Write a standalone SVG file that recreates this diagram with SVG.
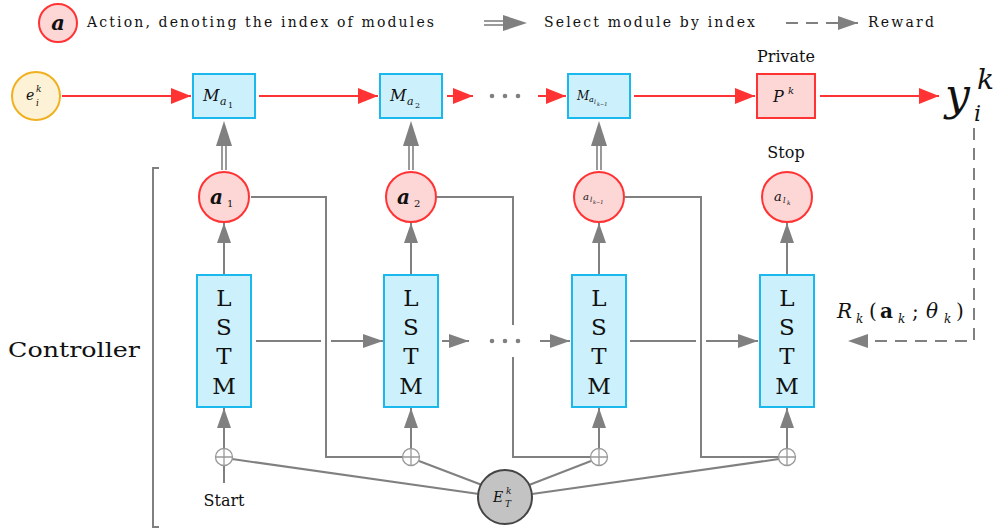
<svg xmlns="http://www.w3.org/2000/svg" width="995" height="529" viewBox="0 0 995 529">
<defs>
<style>
.t{font-family:"DejaVu Serif","Liberation Serif",serif;fill:#111}
.m{font-family:"DejaVu Serif","Liberation Serif",serif;font-style:italic;fill:#111}
.blue{fill:#ccf0fc;stroke:#1ab8ec;stroke-width:2}
.act{fill:#fdd6d6;stroke:#f33;stroke-width:2}
.g{stroke:#808080;stroke-width:2;fill:none}
.r{stroke:#f33;stroke-width:2;fill:none}
.plus{fill:#fff;stroke:#999;stroke-width:1.3}
</style>
<marker id="ga" markerUnits="userSpaceOnUse" markerWidth="20" markerHeight="14" refX="20" refY="7" orient="auto"><path d="M0,0 L20,7 L0,14 z" fill="#808080"/></marker>
<marker id="ra" markerUnits="userSpaceOnUse" markerWidth="20" markerHeight="16" refX="20" refY="8" orient="auto"><path d="M0,0 L20,8 L0,16 z" fill="#f33"/></marker>
</defs>
<rect width="995" height="529" fill="#fff"/>

<g id="legend">
<circle cx="58" cy="23" r="19" class="act"/>
<text x="58" y="30" class="m" font-size="21" font-weight="bold" text-anchor="middle">a</text>
<text x="87" y="27" class="t" font-size="14" textLength="347" lengthAdjust="spacing">Action, denoting the index of modules</text>
<line x1="484" y1="21" x2="506" y2="21" stroke="#808080" stroke-width="1.6"/>
<line x1="484" y1="25" x2="506" y2="25" stroke="#808080" stroke-width="1.6"/>
<path d="M503,15 L527,23 L503,31 z" fill="#808080"/>
<text x="544" y="27" class="t" font-size="14" textLength="211" lengthAdjust="spacing">Select module by index</text>
<line x1="786" y1="23" x2="858" y2="23" class="g" stroke-dasharray="12,8" marker-end="url(#ga)"/>
<text x="868" y="27" class="t" font-size="14" textLength="66" lengthAdjust="spacing">Reward</text>
</g>

<g id="connectors">
<line x1="62" y1="96" x2="191" y2="96" class="r" marker-end="url(#ra)"/>
<line x1="259" y1="96" x2="378" y2="96" class="r" marker-end="url(#ra)"/>
<line x1="447" y1="96" x2="473" y2="96" class="r" marker-end="url(#ra)"/>
<line x1="538" y1="96" x2="566" y2="96" class="r" marker-end="url(#ra)"/>
<line x1="634" y1="96" x2="755" y2="96" class="r" marker-end="url(#ra)"/>
<line x1="820" y1="96" x2="939" y2="96" class="r" marker-end="url(#ra)"/>
<g fill="#808080"><circle cx="492" cy="96" r="2.3"/><circle cx="505" cy="96" r="2.3"/><circle cx="518" cy="96" r="2.3"/></g>

<g stroke="#808080" stroke-width="1.6">
<line x1="222" y1="144" x2="222" y2="170"/><line x1="226" y1="144" x2="226" y2="170"/>
<line x1="409" y1="144" x2="409" y2="170"/><line x1="413" y1="144" x2="413" y2="170"/>
<line x1="597" y1="144" x2="597" y2="170"/><line x1="601" y1="144" x2="601" y2="170"/>
</g>
<g fill="#808080">
<path d="M216,146 L224,121 L232,146 z"/>
<path d="M403,146 L411,121 L419,146 z"/>
<path d="M591,146 L599,121 L607,146 z"/>
</g>

<line x1="224" y1="275" x2="224" y2="223" class="g" marker-end="url(#ga)"/>
<line x1="411" y1="275" x2="411" y2="223" class="g" marker-end="url(#ga)"/>
<line x1="599" y1="275" x2="599" y2="223" class="g" marker-end="url(#ga)"/>
<line x1="787" y1="275" x2="787" y2="223" class="g" marker-end="url(#ga)"/>

<line x1="224" y1="448" x2="224" y2="408" class="g" marker-end="url(#ga)"/>
<line x1="411" y1="448" x2="411" y2="408" class="g" marker-end="url(#ga)"/>
<line x1="599" y1="448" x2="599" y2="408" class="g" marker-end="url(#ga)"/>
<line x1="787" y1="448" x2="787" y2="408" class="g" marker-end="url(#ga)"/>
<line x1="224" y1="466" x2="224" y2="483" class="g"/>

<polyline points="251,197 326,197 326,457 402,457" class="g"/>
<polyline points="437,197 513,197 513,325" class="g"/>
<polyline points="513,357 513,457 590,457" class="g"/>
<polyline points="625,197 701,197 701,457 778,457" class="g"/>

<line x1="256" y1="341" x2="321" y2="341" class="g"/>
<line x1="331" y1="341" x2="383" y2="341" class="g" marker-end="url(#ga)"/>
<line x1="442" y1="341" x2="469" y2="341" class="g" marker-end="url(#ga)"/>
<g fill="#808080"><circle cx="492" cy="341" r="2.3"/><circle cx="505" cy="341" r="2.3"/><circle cx="518" cy="341" r="2.3"/></g>
<line x1="540" y1="341" x2="570" y2="341" class="g" marker-end="url(#ga)"/>
<line x1="630" y1="341" x2="696" y2="341" class="g"/>
<line x1="706" y1="341" x2="758" y2="341" class="g" marker-end="url(#ga)"/>

<polyline points="974,128 974,341 848,341" class="g" stroke-dasharray="12,8" marker-end="url(#ga)"/>

<line x1="479" y1="494" x2="232" y2="459" class="g"/>
<line x1="482" y1="485" x2="419" y2="461" class="g"/>
<line x1="529" y1="485" x2="591" y2="461" class="g"/>
<line x1="532" y1="494" x2="779" y2="459" class="g"/>

<polyline points="159,168 153,168 153,527 159,527" class="g" stroke-width="1.8"/>
</g>

<g id="e">
<circle cx="36" cy="96" r="24" fill="#fdf2d6" stroke="#f0b020" stroke-width="2"/>
<text x="26" y="100" class="m" font-size="14">e</text>
<text x="36" y="92" class="m" font-size="9">k</text>
<text x="36" y="106" class="m" font-size="9">i</text>
</g>

<g id="M1">
<rect x="193" y="74" width="62" height="44" class="blue"/>
<text x="203" y="101" class="m" font-size="16">M</text>
<text x="220" y="105" class="m" font-size="11">a</text>
<text x="228" y="108" class="t" font-size="8">1</text>
</g>
<g id="M2">
<rect x="380" y="74" width="62" height="44" class="blue"/>
<text x="390" y="101" class="m" font-size="16">M</text>
<text x="407" y="105" class="m" font-size="11">a</text>
<text x="415" y="108" class="t" font-size="8">2</text>
</g>
<g id="M3">
<rect x="568" y="74" width="62" height="44" class="blue"/>
<text x="577" y="100" class="m" font-size="12">M</text>
<text x="589" y="102" class="m" font-size="8">a</text>
<text x="594" y="104" class="m" font-size="6">l</text>
<text x="597" y="106" class="m" font-size="5">k−1</text>
</g>
<g id="P">
<text x="786" y="62" class="t" font-size="16" text-anchor="middle">Private</text>
<rect x="757" y="74" width="58" height="44" class="act"/>
<text x="773" y="102" class="m" font-size="16">P</text>
<text x="788" y="94" class="m" font-size="10">k</text>
</g>
<g id="y">
<text x="945" y="110" class="m" font-size="44">y</text>
<text x="977" y="89" class="m" font-size="28">k</text>
<text x="974" y="121" class="m" font-size="22">i</text>
</g>

<g id="a1">
<circle cx="224" cy="197" r="25" class="act"/>
<text x="210" y="204" class="m" font-size="20" font-weight="bold">a</text>
<text x="227" y="207" class="t" font-size="10">1</text>
</g>
<g id="a2">
<circle cx="411" cy="197" r="25" class="act"/>
<text x="397" y="204" class="m" font-size="20" font-weight="bold">a</text>
<text x="414" y="207" class="t" font-size="10">2</text>
</g>
<g id="a3">
<circle cx="599" cy="197" r="25" class="act"/>
<text x="583" y="200" class="m" font-size="10">a</text>
<text x="590" y="202" class="m" font-size="7">l</text>
<text x="593" y="204" class="m" font-size="5">k−1</text>
</g>
<g id="a4">
<text x="786" y="158" class="t" font-size="16" text-anchor="middle">Stop</text>
<circle cx="787" cy="197" r="25" class="act"/>
<text x="774" y="201" class="m" font-size="13">a</text>
<text x="783" y="203" class="m" font-size="8">l</text>
<text x="787" y="205" class="m" font-size="6">k</text>
</g>

<g id="lstm1">
<rect x="197" y="275" width="54" height="132" class="blue"/>
<g class="t" font-size="23" text-anchor="middle"><text x="224" y="306">L</text><text x="224" y="335">S</text><text x="224" y="364">T</text><text x="224" y="394">M</text></g>
</g>
<g id="lstm2">
<rect x="384" y="275" width="54" height="132" class="blue"/>
<g class="t" font-size="23" text-anchor="middle"><text x="411" y="306">L</text><text x="411" y="335">S</text><text x="411" y="364">T</text><text x="411" y="394">M</text></g>
</g>
<g id="lstm3">
<rect x="572" y="275" width="54" height="132" class="blue"/>
<g class="t" font-size="23" text-anchor="middle"><text x="599" y="306">L</text><text x="599" y="335">S</text><text x="599" y="364">T</text><text x="599" y="394">M</text></g>
</g>
<g id="lstm4">
<rect x="760" y="275" width="54" height="132" class="blue"/>
<g class="t" font-size="23" text-anchor="middle"><text x="787" y="306">L</text><text x="787" y="335">S</text><text x="787" y="364">T</text><text x="787" y="394">M</text></g>
</g>

<g id="plus1"><circle cx="224" cy="457" r="8.5" class="plus"/><path d="M215.5,457 H232.5 M224,448.5 V465.5" stroke="#999" stroke-width="1.3"/></g>
<g id="plus2"><circle cx="411" cy="457" r="8.5" class="plus"/><path d="M402.5,457 H419.5 M411,448.5 V465.5" stroke="#999" stroke-width="1.3"/></g>
<g id="plus3"><circle cx="599" cy="457" r="8.5" class="plus"/><path d="M590.5,457 H607.5 M599,448.5 V465.5" stroke="#999" stroke-width="1.3"/></g>
<g id="plus4"><circle cx="787" cy="457" r="8.5" class="plus"/><path d="M778.5,457 H795.5 M787,448.5 V465.5" stroke="#999" stroke-width="1.3"/></g>

<g id="start"><text x="224" y="506" class="t" font-size="16" text-anchor="middle">Start</text></g>

<g id="E">
<circle cx="505" cy="497" r="27" fill="#c3c3c3" stroke="#444" stroke-width="2"/>
<text x="493" y="502" class="m" font-size="14">E</text>
<text x="506" y="494" class="m" font-size="9">k</text>
<text x="505" y="507" class="m" font-size="9">T</text>
</g>

<g id="reward-label">
<text x="837" y="318" class="m" font-size="20">R</text>
<text x="856" y="323" class="m" font-size="12">k</text>
<text x="869" y="318" class="t" font-size="20">(</text>
<text x="880" y="318" class="t" font-size="20" font-weight="bold">a</text>
<text x="898" y="323" class="m" font-size="12">k</text>
<text x="912" y="318" class="t" font-size="20">;</text>
<text x="926" y="318" class="m" font-size="20">θ</text>
<text x="944" y="323" class="m" font-size="12">k</text>
<text x="956" y="318" class="t" font-size="20">)</text>
</g>

<g id="controller"><text x="8" y="357" class="t" font-size="21" textLength="132" lengthAdjust="spacingAndGlyphs">Controller</text></g>
</svg>
